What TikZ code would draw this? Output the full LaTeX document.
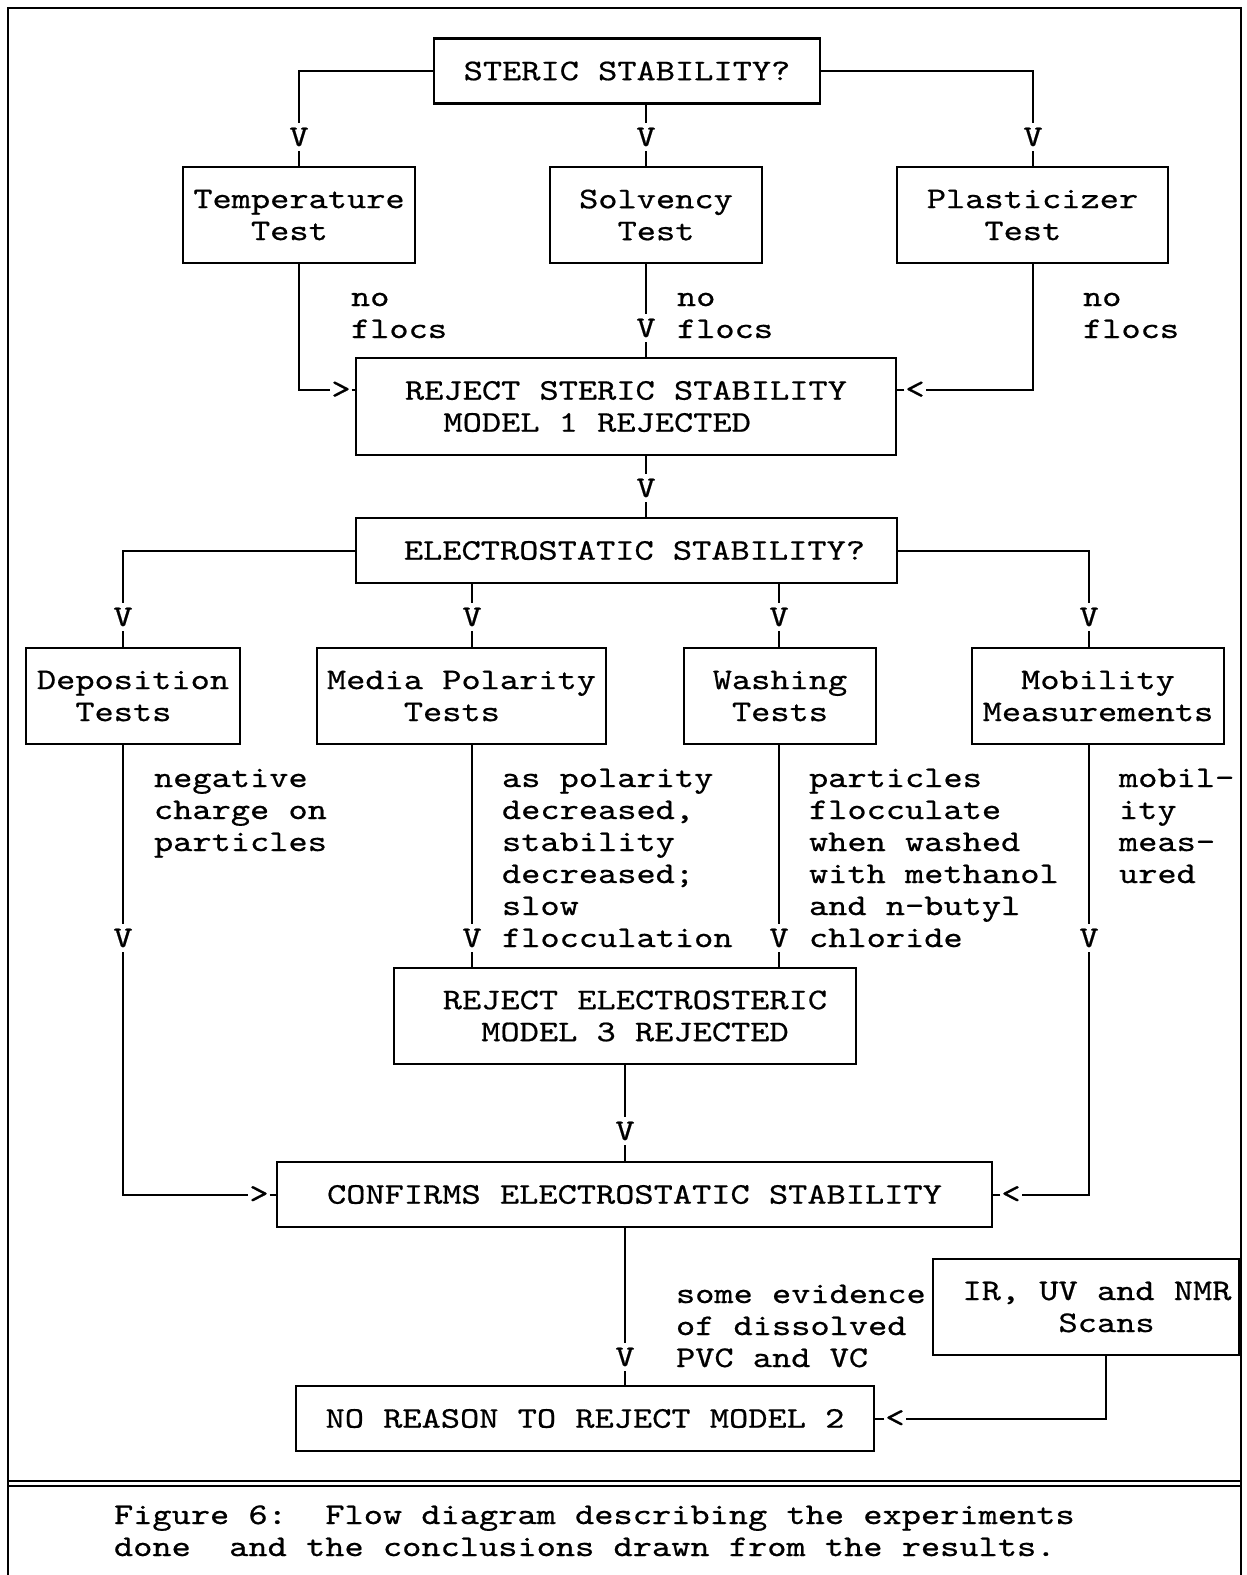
\documentclass[tikz,border=0pt]{standalone}
\usepackage{fontspec}
\newfontfamily\typewriter{lmmono10-regular}[Extension=.otf,FakeStretch=1.22,FakeBold=0.6]
\newcommand\flowfont{\typewriter\fontsize{30}{32}\selectfont}

\begin{document}
\begin{tikzpicture}[x=1pt, y=-1pt, line width=2pt,
  flowbox/.style={draw, line width=2.4pt, inner sep=0pt, align=left, font=\flowfont},
  vmark/.style={font=\flowfont, inner sep=4pt},
  tipmark/.style={font=\flowfont, inner sep=0pt},
  remark/.style={font=\flowfont, align=left, anchor=north west, inner sep=0pt}]
\useasboundingbox (0,0) rectangle (1247,1575);
\draw[line width=2.4pt] (8,1575) -- (8,8) -- (1241,8) -- (1241,1575);
\draw[line width=1.5pt] (8,1481) -- (1241,1481) (8,1486) -- (1241,1486);

\node[flowbox, minimum width=386pt, minimum height=65pt] (steric) at (627,71) {STERIC STABILITY?};
\node[flowbox, minimum width=232pt, minimum height=96pt] (temp) at (299,215) {Temperature\\\hphantom{Tem}Test};
\node[flowbox, minimum width=212pt, minimum height=96pt] (solv) at (656,215) {Solvency\\\hphantom{So}Test};
\node[flowbox, minimum width=271pt, minimum height=96pt] (plast) at (1032.5,215) {Plasticizer\\\hphantom{Pla}Test};
\node[flowbox, minimum width=540pt, minimum height=97pt] (rsteric) at (626,406.5) {REJECT STERIC STABILITY\\\hphantom{MO}MODEL 1 REJECTED};
\node[flowbox, minimum width=541pt, minimum height=65pt] (electro) at (626.5,550.5) {\hspace*{16pt}ELECTROSTATIC STABILITY?};
\node[flowbox, minimum width=214pt, minimum height=96pt] (depo) at (133,696) {Deposition\\\hphantom{De}Tests};
\node[flowbox, minimum width=289pt, minimum height=96pt] (media) at (461.5,696) {Media Polarity\\\hphantom{Medi}Tests};
\node[flowbox, minimum width=192pt, minimum height=96pt] (wash) at (780,696) {Washing\\\hphantom{W}Tests};
\node[flowbox, minimum width=252pt, minimum height=96pt] (mobil) at (1098,696) {\hphantom{Me}Mobility\\Measurements};
\node[flowbox, minimum width=462pt, minimum height=96pt] (relectro) at (625,1016) {\hspace*{20pt}REJECT ELECTROSTERIC\\\hspace*{20pt}\hphantom{MO}MODEL 3 REJECTED};
\node[flowbox, minimum width=715pt, minimum height=65pt] (confirm) at (634.5,1194.5) {CONFIRMS ELECTROSTATIC STABILITY};
\node[flowbox, minimum width=306pt, minimum height=96pt] (irscan) at (1086,1307) {\hspace*{22pt}IR, UV and NMR\\\hspace*{22pt}\hphantom{IR, U}Scans};
\node[flowbox, minimum width=578pt, minimum height=65pt] (noreason) at (585,1418.5) {NO REASON TO REJECT MODEL 2};

\node[vmark] (vT) at (299,137) {V};
\node[vmark] (vS) at (646,137) {V};
\node[vmark] (vP) at (1033,137) {V};
\node[vmark] (vSo) at (646,328) {V};
\node[vmark] (vR) at (646,488) {V};
\node[vmark] (vD) at (123,617) {V};
\node[vmark] (vM) at (472,617) {V};
\node[vmark] (vW) at (779,617) {V};
\node[vmark] (vMo) at (1089,617) {V};
\node[vmark] (vD2) at (123,938) {V};
\node[vmark] (vM2) at (472,938) {V};
\node[vmark] (vW2) at (779,938) {V};
\node[vmark] (vMo2) at (1089,938) {V};
\node[vmark] (vC) at (625,1131) {V};
\node[vmark] (vN) at (625,1357) {V};

\node[tipmark] (gtA) at (341,390) {>};
\node[tipmark] (ltA) at (915,390) {<};
\node[tipmark] (gtB) at (259,1194.5) {>};
\node[tipmark] (ltB) at (1011,1194.5) {<};
\node[tipmark] (ltC) at (895,1418.5) {<};

\node[remark] (lT) at (350,282.6) {\strut no\\flocs};
\node[remark] (lS) at (676,282.6) {\strut no\\flocs};
\node[remark] (lP) at (1082,282.6) {\strut no\\flocs};
\node[remark] (lD) at (153,763.6) {\strut negative\\charge on\\particles};
\node[remark] (lM) at (501,763.6) {\strut as polarity\\decreased,\\stability\\decreased;\\slow\\flocculation};
\node[remark] (lW) at (808,763.6) {\strut particles\\flocculate\\when washed\\with methanol\\and n-butyl\\chloride};
\node[remark] (lMo) at (1118,763.6) {\strut mobil-\\ity\\meas-\\ured};
\node[remark] (lE) at (675,1279.6) {\strut some evidence\\of dissolved\\PVC and VC};
\node[remark] (caption) at (113,1500.6) {\strut Figure 6:\ \ Flow diagram describing the experiments\\done\ \ and the conclusions drawn from the results.};

\draw (steric.west) -| (vT.north);
\draw (vT.south) -- (temp.north);
\draw (steric.south -| vS) -- (vS.north);
\draw (vS.south) -- (solv.north -| vS);
\draw (steric.east) -| (vP.north);
\draw (vP.south) -- (plast.north -| vP);
\draw (temp.south) |- (gtA.west);
\draw (gtA.east) -- (gtA -| rsteric.west);
\draw (solv.south -| vSo) -- (vSo.north);
\draw (vSo.south) -- (rsteric.north -| vSo);
\draw (plast.south -| vP) |- (ltA.east);
\draw (ltA.west) -- (ltA -| rsteric.east);
\draw (rsteric.south -| vR) -- (vR.north);
\draw (vR.south) -- (electro.north -| vR);
\draw (electro.west) -| (vD.north);
\draw (vD.south) -- (depo.north -| vD);
\draw (electro.south -| vM) -- (vM.north);
\draw (vM.south) -- (media.north -| vM);
\draw (electro.south -| vW) -- (vW.north);
\draw (vW.south) -- (wash.north -| vW);
\draw (electro.east) -| (vMo.north);
\draw (vMo.south) -- (mobil.north -| vMo);
\draw (depo.south -| vD2) -- (vD2.north);
\draw (vD2.south) |- (gtB.west);
\draw (gtB.east) -- (confirm.west);
\draw (media.south -| vM2) -- (vM2.north);
\draw (vM2.south) -- (relectro.north -| vM2);
\draw (wash.south -| vW2) -- (vW2.north);
\draw (vW2.south) -- (relectro.north -| vW2);
\draw (mobil.south -| vMo2) -- (vMo2.north);
\draw (vMo2.south) |- (ltB.east);
\draw (ltB.west) -- (confirm.east);
\draw (relectro.south -| vC) -- (vC.north);
\draw (vC.south) -- (confirm.north -| vC);
\draw (confirm.south -| vN) -- (vN.north);
\draw (vN.south) -- (noreason.north -| vN);
\draw (irscan.south) ++(20,0) |- (ltC.east);
\draw (ltC.west) -- (noreason.east);
\end{tikzpicture}
\end{document}
